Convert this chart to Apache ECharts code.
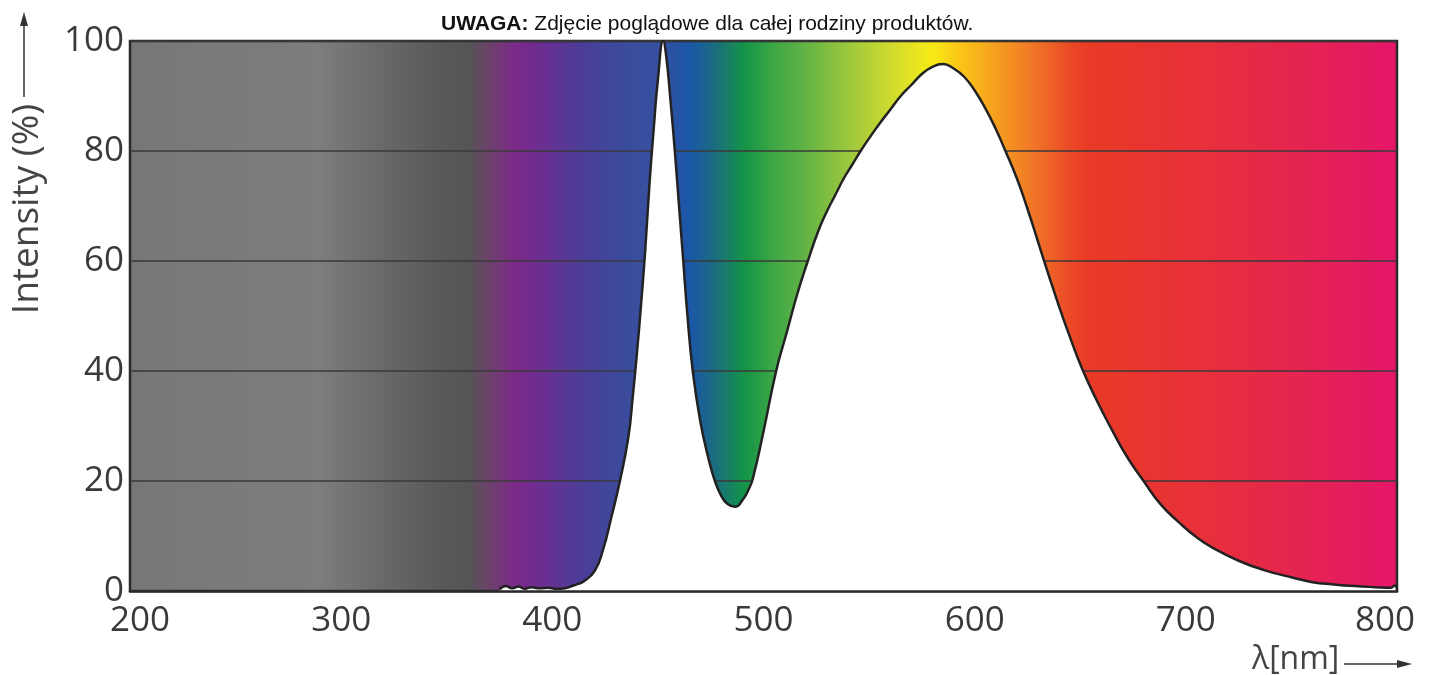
<!DOCTYPE html>
<html>
<head>
<meta charset="utf-8">
<script src="https://cdn.jsdelivr.net/npm/echarts@6/dist/echarts.min.js"></script>
<style>
html,body{margin:0;padding:0;background:#fff;}
#c{width:1437px;height:675px;}
</style>
</head>
<body>
<div id="c"></div>
<script>
// ---- data ----
var wavelengths = [375, 378, 381, 384, 387, 390, 394, 398, 402, 406, 410, 415, 420, 424, 428, 432, 436, 438, 440, 442, 444, 446, 448, 450, 452.5, 454, 456, 458, 460, 462, 464, 466.5, 470, 474, 477, 480, 483, 486.5, 490, 493, 495, 500, 506, 511, 516, 521, 526, 530, 534, 538, 542, 546, 550, 555, 560, 565, 570, 575, 580, 585, 590, 595, 600, 605, 610, 614, 620, 625, 630, 635, 640, 645, 651, 658, 665, 672, 680, 688, 697, 705, 713, 725, 737, 750, 760, 770, 780, 790, 797, 799, 800];
var intensity   = [0.3, 0.9, 0.5, 0.8, 0.4, 0.7, 0.5, 0.6, 0.4, 0.5, 1.0, 1.8, 3.6, 7.5, 13.5, 20, 28, 35, 43, 52, 62, 74, 84, 93, 100, 97, 89, 80, 70, 60, 50, 40, 31, 24, 20, 17.3, 15.8, 15.3, 16.5, 18.5, 20.5, 29, 40, 47, 54, 60, 65.5, 69, 72, 75, 77.5, 80, 82.3, 85, 87.5, 90, 92, 94, 95.3, 95.8, 95, 93.5, 91, 87.8, 84, 80.5, 75, 69.5, 63.5, 57.5, 51.7, 46.3, 40.3, 34.5, 29.3, 24.5, 20, 15.8, 12.4, 9.8, 7.8, 5.5, 3.8, 2.5, 1.6, 1.2, 0.9, 0.7, 0.6, 1.0, 0];
var xTicks = [200, 300, 400, 500, 600, 700, 800];
var yTicks = [0, 20, 40, 60, 80, 100];
var titleBold = 'UWAGA:';
var titleText = ' Zdjęcie poglądowe dla całej rodziny produktów.';
var yName = 'Intensity (%)';
var xName = 'λ[nm]';

// spectrum colour stops (position along 200–800 nm)
var spectrumStops = [
  [0.000, '#777777'], [0.150, '#7d7d7d'], [0.205, '#676767'], [0.245, '#595959'],
  [0.267, '#555555'], [0.282, '#6a4468'], [0.304, '#7c2a8a'], [0.324, '#6c2d90'],
  [0.355, '#4d3c97'], [0.387, '#3c4b9c'], [0.418, '#3650a0'], [0.442, '#1a57a8'],
  [0.462, '#1b6d7e'], [0.485, '#139448'], [0.509, '#40a845'], [0.529, '#5cb146'],
  [0.568, '#9ec83c'], [0.608, '#d9df2a'], [0.633, '#f7ea14'], [0.655, '#fbc518'],
  [0.687, '#f59a20'], [0.718, '#ef6e28'], [0.742, '#ea4826'], [0.758, '#e83a26'],
  [0.845, '#e8303a'], [0.923, '#e52450'], [1.000, '#e4166a']
];

var seriesData = wavelengths.map(function (w, i) { return [w, intensity[i]]; });

var chart = echarts.init(document.getElementById('c'));
var labelFont = '"Open Sans", "DejaVu Sans", sans-serif';
var labelColor = '#3a3a3a';

chart.setOption({
  animation: false,
  title: {
    text: '{b|' + titleBold + '}' + titleText,
    left: 436, top: 9,
    textStyle: {
      fontFamily: '"Liberation Sans", Arial, sans-serif',
      fontSize: 21, fontWeight: 'normal', color: '#111',
      rich: { b: { fontFamily: '"Liberation Sans", Arial, sans-serif', fontSize: 21, fontWeight: 'bold', color: '#111' } }
    }
  },
  grid: {
    left: 130, right: 40, top: 41, bottom: 84,
    show: true,
    borderColor: '#2a2a2a', borderWidth: 2.5,
    backgroundColor: new echarts.graphic.LinearGradient(0, 0, 1, 0,
      spectrumStops.map(function (s) { return { offset: s[0], color: s[1] }; }))
  },
  xAxis: {
    type: 'value', min: xTicks[0], max: xTicks[xTicks.length - 1], interval: 100,
    z: 5,
    axisLine: { show: true, lineStyle: { color: '#2a2a2a', width: 2.5 } },
    axisTick: { show: false },
    splitLine: { show: false },
    axisLabel: {
      margin: 13, fontSize: 35, fontFamily: labelFont, color: labelColor,
      formatter: function (v) {
        if (v === xTicks[0]) return '{first|' + v + '}';
        if (v === xTicks[xTicks.length - 1]) return '{last|' + v + '}';
        return String(v);
      },
      rich: {
        first: { fontSize: 35, fontFamily: labelFont, color: labelColor, padding: [0, 0, 0, 20] },
        last: { fontSize: 35, fontFamily: labelFont, color: labelColor, padding: [0, 24, 0, 0] }
      }
    }
  },
  yAxis: {
    type: 'value', min: yTicks[0], max: yTicks[yTicks.length - 1], interval: 20,
    axisLine: { show: false },
    axisTick: { show: false },
    splitLine: { show: true, lineStyle: { color: '#3a3a3a', width: 1.5 } },
    axisLabel: { margin: 6, fontSize: 35, fontFamily: labelFont, color: labelColor }
  },
  series: [{
    type: 'line',
    data: seriesData,
    showSymbol: false,
    smooth: 0.5,
    clip: true,
    lineStyle: { color: '#222', width: 2.5 },
    areaStyle: { color: '#ffffff', opacity: 1 },
    z: 3
  }],
  graphic: [
    { type: 'line', shape: { x1: 24, y1: 97, x2: 24, y2: 24 }, style: { stroke: '#333', lineWidth: 1.5 } },
    { type: 'polygon', shape: { points: [[24, 12], [20, 26], [28, 26]] }, style: { fill: '#333' } },
    { type: 'text', x: 27, y: 209, rotation: Math.PI / 2,
      style: { text: yName, font: '37px ' + labelFont, fill: '#444', align: 'center', verticalAlign: 'middle' } },
    { type: 'text', x: 1252, y: 660,
      style: { text: xName, font: '32px ' + labelFont, fill: '#444', align: 'left', verticalAlign: 'middle' } },
    { type: 'line', shape: { x1: 1344, y1: 664, x2: 1400, y2: 664 }, style: { stroke: '#333', lineWidth: 1.5 } },
    { type: 'polygon', shape: { points: [[1412, 664], [1397, 660], [1397, 668]] }, style: { fill: '#333' } }
  ]
});
</script>
</body>
</html>
